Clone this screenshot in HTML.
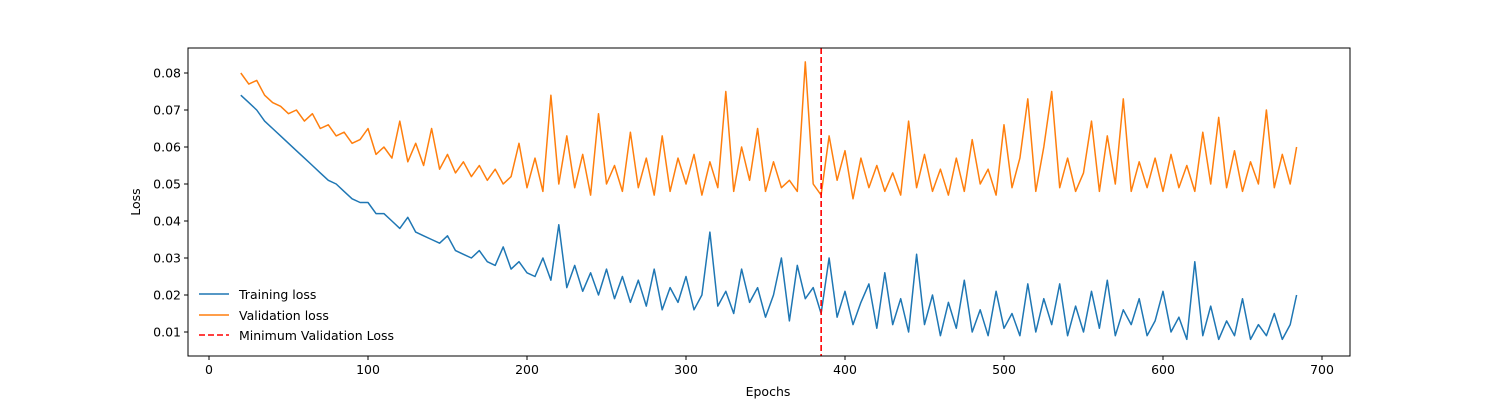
<!DOCTYPE html>
<html><head><meta charset="utf-8">
<style>
html,body{margin:0;padding:0;background:#fff;}
svg{display:block;font-family:"DejaVu Sans","Liberation Sans",sans-serif;}
</style></head>
<body>
<svg id="chart" width="1500" height="400" viewBox="0 0 1500 400" xmlns="http://www.w3.org/2000/svg">
<rect x="0" y="0" width="1500" height="400" fill="#fff"/>
<g id="plot"></g>
<text x="768" y="396" font-size="12.5" text-anchor="middle">Epochs</text>
<text x="140" y="202" font-size="12.5" text-anchor="middle" transform="rotate(-90 140 202)">Loss</text>
<g>
  <line x1="199" y1="294" x2="229" y2="294" stroke="#1f77b4" stroke-width="1.6"/>
  <text x="239" y="299" font-size="12.5">Training loss</text>
  <line x1="199" y1="315" x2="229" y2="315" stroke="#ff7f0e" stroke-width="1.6"/>
  <text x="239" y="320" font-size="12.5">Validation loss</text>
  <line x1="199" y1="335" x2="229" y2="335" stroke="#ff0000" stroke-width="1.6" stroke-dasharray="6,3"/>
  <text x="239" y="340" font-size="12.5">Minimum Validation Loss</text>
</g>
</svg>
<script>
const epochs = [20,25,30,35,40,45,50,55,60,65,70,75,80,85,90,95,100,105,110,115,120,125,130,135,140,145,150,155,160,165,170,175,180,185,190,195,200,205,210,215,220,225,230,235,240,245,250,255,260,265,270,275,280,285,290,295,300,305,310,315,320,325,330,335,340,345,350,355,360,365,370,375,380,385,390,395,400,405,410,415,420,425,430,435,440,445,450,455,460,465,470,475,480,485,490,495,500,505,510,515,520,525,530,535,540,545,550,555,560,565,570,575,580,585,590,595,600,605,610,615,620,625,630,635,640,645,650,655,660,665,670,675,680,684];
const trainLoss = [0.074,0.072,0.070,0.067,0.065,0.063,0.061,0.059,0.057,0.055,0.053,0.051,0.050,0.048,0.046,0.045,0.045,0.042,0.042,0.040,0.038,0.041,0.037,0.036,0.035,0.034,0.036,0.032,0.031,0.030,0.032,0.029,0.028,0.033,0.027,0.029,0.026,0.025,0.030,0.024,0.039,0.022,0.028,0.021,0.026,0.020,0.027,0.019,0.025,0.018,0.024,0.017,0.027,0.016,0.022,0.018,0.025,0.016,0.020,0.037,0.017,0.021,0.015,0.027,0.018,0.022,0.014,0.020,0.030,0.013,0.028,0.019,0.022,0.015,0.030,0.014,0.021,0.012,0.018,0.023,0.011,0.026,0.012,0.019,0.010,0.031,0.012,0.020,0.009,0.018,0.011,0.024,0.010,0.016,0.009,0.021,0.011,0.015,0.009,0.023,0.010,0.019,0.012,0.023,0.009,0.017,0.010,0.021,0.011,0.024,0.009,0.016,0.012,0.019,0.009,0.013,0.021,0.010,0.014,0.008,0.029,0.009,0.017,0.008,0.013,0.009,0.019,0.008,0.012,0.009,0.015,0.008,0.012,0.020];
const valLoss = [0.080,0.077,0.078,0.074,0.072,0.071,0.069,0.070,0.067,0.069,0.065,0.066,0.063,0.064,0.061,0.062,0.065,0.058,0.060,0.057,0.067,0.056,0.061,0.055,0.065,0.054,0.058,0.053,0.056,0.052,0.055,0.051,0.054,0.050,0.052,0.061,0.049,0.057,0.048,0.074,0.050,0.063,0.049,0.058,0.047,0.069,0.050,0.055,0.048,0.064,0.049,0.057,0.047,0.063,0.048,0.057,0.050,0.058,0.047,0.056,0.049,0.075,0.048,0.060,0.051,0.065,0.048,0.056,0.049,0.051,0.048,0.083,0.050,0.047,0.063,0.051,0.059,0.046,0.057,0.049,0.055,0.048,0.053,0.047,0.067,0.049,0.058,0.048,0.054,0.047,0.057,0.048,0.062,0.050,0.054,0.047,0.066,0.049,0.057,0.073,0.048,0.060,0.075,0.049,0.057,0.048,0.053,0.067,0.048,0.063,0.050,0.073,0.048,0.056,0.049,0.057,0.048,0.058,0.049,0.055,0.048,0.064,0.050,0.068,0.049,0.059,0.048,0.056,0.050,0.070,0.049,0.058,0.050,0.060];
const minValEpoch = [385];
const xTicks = [0,100,200,300,400,500,600,700];
const yTicks = [0.01,0.02,0.03,0.04,0.05,0.06,0.07,0.08];

const NS='http://www.w3.org/2000/svg';
const L=188,R=1350,T=48,B=356;
function xs(v){return 209+v*(1113/700);}
function ys(v){return 73+(0.08-v)*3700;}
const g=document.getElementById('plot');
function mk(tag,attrs){const e=document.createElementNS(NS,tag);for(const k in attrs)e.setAttribute(k,attrs[k]);g.appendChild(e);return e;}

const clip=mk('clipPath',{id:'clip'});
const cr=document.createElementNS(NS,'rect');
cr.setAttribute('x',L);cr.setAttribute('y',T);cr.setAttribute('width',R-L);cr.setAttribute('height',B-T);
clip.appendChild(cr);

function line(vals,color,name){
  const p=mk('path',{d:vals.map((v,i)=>(i?'L':'M')+xs(epochs[i]).toFixed(1)+','+ys(v).toFixed(1)).join(''),fill:'none',stroke:color,'stroke-width':1.5,'stroke-linejoin':'round','clip-path':'url(#clip)'});
  
  
}
line(trainLoss,'#1f77b4','training-loss-line');
line(valLoss,'#ff7f0e','validation-loss-line');
minValEpoch.forEach(e=>{
  const l=mk('line',{x1:xs(e),x2:xs(e),y1:T,y2:B,stroke:'#ff0000','stroke-width':1.6,'stroke-dasharray':'6,3'});
  
  
});
const frame=mk('rect',{x:L,y:T,width:R-L,height:B-T,fill:'none',stroke:'#000','stroke-width':1});


xTicks.forEach(t=>{
  const x=xs(t);
  mk('line',{x1:x,x2:x,y1:B,y2:B+4,stroke:'#000','stroke-width':1});
  const tx=mk('text',{x:x,y:B+18,'font-size':12.5,'text-anchor':'middle'});
  tx.textContent=t;
  
  
});
yTicks.forEach(t=>{
  const y=ys(t);
  mk('line',{x1:L-4,x2:L,y1:y,y2:y,stroke:'#000','stroke-width':1});
  const tx=mk('text',{x:L-7,y:y+4.5,'font-size':12.5,'text-anchor':'end'});
  tx.textContent=t.toFixed(2);
  
  
});
</script>
</body></html>
